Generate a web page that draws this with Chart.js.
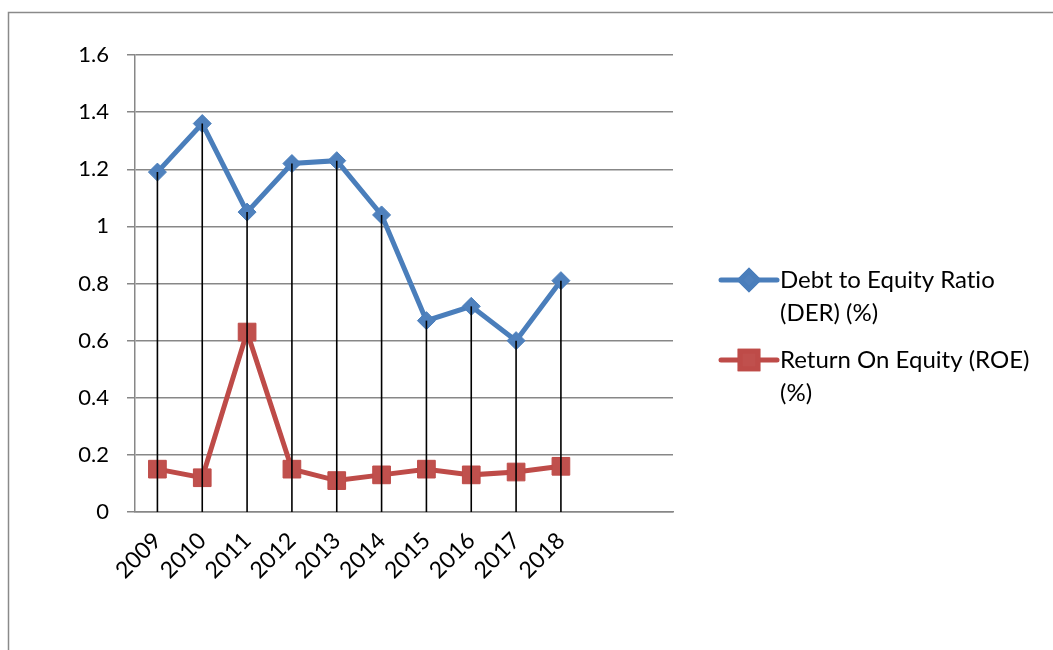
<!DOCTYPE html>
<html>
<head>
<meta charset="utf-8">
<script src="https://cdn.jsdelivr.net/npm/chart.js@4/dist/chart.umd.min.js"></script>
<style>
  html, body { margin: 0; padding: 0; background: #ffffff; }
  #wrap { width: 1053px; height: 650px; position: relative; }
</style>
</head>
<body>
<div id="wrap"><canvas id="c" width="1053" height="650"></canvas></div>
<script>
// Category axis: ten years plus two empty slots at the right end
const years = ['2009', '2010', '2011', '2012', '2013', '2014', '2015', '2016', '2017', '2018', '', ''];
const derValues = [1.19, 1.36, 1.05, 1.22, 1.23, 1.04, 0.67, 0.72, 0.60, 0.81];
const roeValues = [0.15, 0.12, 0.63, 0.15, 0.11, 0.13, 0.15, 0.13, 0.14, 0.16];
const seriesNames = [
  ['Debt to Equity Ratio', '(DER) (%)'],
  ['Return On Equity (ROE)', '(%)']
];
const yTickLabels = ['0', '0.2', '0.4', '0.6', '0.8', '1', '1.2', '1.4', '1.6'];

const FONT = 'Lato, "Open Sans", sans-serif';
const GRID = '#878787';
const BLUE_LINE = '#4A7EBB', BLUE_FILL = '#4F81BD';
const RED_LINE = '#BE4B48', RED_FILL = '#C0504D';

// Thin grey frame around the whole chart
const framePlugin = {
  id: 'frame',
  beforeDraw(chart) {
    const ctx = chart.ctx;
    ctx.save();
    ctx.strokeStyle = '#8a8a8a';
    ctx.lineWidth = 1.5;
    ctx.strokeRect(8.5, 12.5, chart.width + 20, chart.height + 20);
    ctx.restore();
  }
};

// Black drop lines from the highest point of each category down to the axis
const dropLinePlugin = {
  id: 'dropLines',
  afterDatasetsDraw(chart) {
    const xs = chart.scales.x, ys = chart.scales.y, ctx = chart.ctx;
    const n = Math.max(...chart.data.datasets.map(d => d.data.length));
    ctx.save();
    ctx.strokeStyle = '#000000';
    ctx.lineWidth = 1.6;
    for (let i = 0; i < n; i++) {
      const vals = chart.data.datasets.map(d => d.data[i]).filter(v => v != null);
      if (!vals.length) continue;
      const top = Math.max(...vals);
      const x = xs.getPixelForValue(i);
      ctx.beginPath();
      ctx.moveTo(x, ys.getPixelForValue(top));
      ctx.lineTo(x, ys.getPixelForValue(0));
      ctx.stroke();
    }
    ctx.restore();
  }
};

// Legend on the right with wrapped labels
const sideLegendPlugin = {
  id: 'sideLegend',
  afterDraw(chart) {
    const ctx = chart.ctx, area = chart.chartArea;
    const lineX0 = area.right + 48, lineX1 = area.right + 104, textX = area.right + 107;
    const rowY = [280, 360], lineGap = 33;
    ctx.save();
    chart.data.datasets.forEach((ds, i) => {
      const y = rowY[i];
      ctx.strokeStyle = ds.borderColor;
      ctx.lineWidth = 5;
      ctx.lineCap = 'round';
      ctx.beginPath();
      ctx.moveTo(lineX0, y);
      ctx.lineTo(lineX1, y);
      ctx.stroke();
      Chart.helpers.drawPoint(ctx, {
        pointStyle: ds.pointStyle, radius: ds.pointRadius, borderWidth: 1, rotation: 0
      }, (lineX0 + lineX1) / 2, y);
      ctx.fillStyle = ds.pointBackgroundColor;
      ctx.strokeStyle = ds.pointBorderColor;
      ctx.fill();
      ctx.stroke();
      ctx.fillStyle = '#000000';
      ctx.font = '24px ' + FONT;
      ctx.textRendering = 'optimizeSpeed';
      ctx.textAlign = 'left';
      ctx.textBaseline = 'middle';
      seriesNames[i].forEach((t, k) => ctx.fillText(t, textX, y + k * lineGap));
    });
    ctx.restore();
  }
};

new Chart(document.getElementById('c'), {
  type: 'line',
  data: {
    labels: years,
    datasets: [
      {
        label: seriesNames[0].join(' '),
        data: derValues,
        borderColor: BLUE_LINE,
        borderWidth: 5,
        pointStyle: 'rectRot',
        pointRadius: 9,
        pointBackgroundColor: BLUE_FILL,
        pointBorderColor: BLUE_LINE,
        pointBorderWidth: 1,
        tension: 0
      },
      {
        label: seriesNames[1].join(' '),
        data: roeValues,
        borderColor: RED_LINE,
        borderWidth: 5,
        pointStyle: 'rect',
        pointRadius: 12.5,
        pointBackgroundColor: RED_FILL,
        pointBorderColor: RED_LINE,
        pointBorderWidth: 1,
        tension: 0
      }
    ]
  },
  options: {
    responsive: false,
    animation: false,
    events: [],
    layout: { padding: { top: 55, right: 380, left: 0, bottom: 0 } },
    plugins: { legend: { display: false }, tooltip: { enabled: false } },
    scales: {
      x: {
        offset: true,
        grid: { display: false, drawTicks: false },
        border: { display: true, color: GRID, width: 1.5 },
        ticks: {
          autoSkip: false, minRotation: 45, maxRotation: 45, padding: 15,
          color: '#000000', font: { family: FONT, size: 23 }
        },
        afterFit(scale) { scale.height = 138; }
      },
      y: {
        min: 0, max: 1.6,
        grid: { color: GRID, lineWidth: 1.5, tickLength: 8 },
        border: { display: true, color: GRID, width: 1.5 },
        ticks: {
          stepSize: 0.2, padding: 18, color: '#000000',
          font: { family: FONT, size: 22 },
          callback: (v, i) => yTickLabels[i]
        },
        afterFit(scale) { scale.width = 135; }
      }
    }
  },
  plugins: [framePlugin, dropLinePlugin, sideLegendPlugin]
});
</script>
</body>
</html>
